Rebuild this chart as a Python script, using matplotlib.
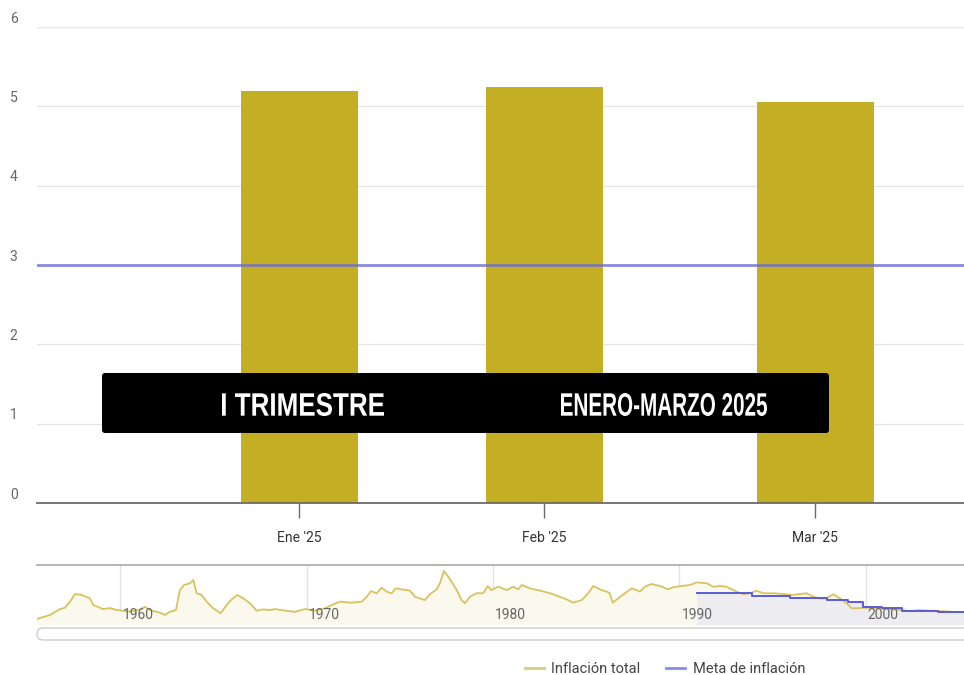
import matplotlib
matplotlib.use("Agg")
import matplotlib.pyplot as plt
import matplotlib.dates as mdates
from matplotlib.lines import Line2D
from matplotlib.patches import FancyBboxPatch, PathPatch
from matplotlib.textpath import TextPath
from matplotlib.font_manager import FontProperties
from matplotlib.transforms import Affine2D, IdentityTransform, ScaledTranslation
from datetime import datetime

# --- datos: inflación mensual 2025 (barras) ---
month_dates = [datetime(2025, 1, 31), datetime(2025, 2, 28), datetime(2025, 3, 31)]
month_labels = ["Ene '25", "Feb '25", "Mar '25"]
inflation_2025 = [5.19, 5.24, 5.05]
target = 3.0
y_ticks = [0, 1, 2, 3, 4, 5, 6]

# --- navegador: serie histórica ---
hist_years = [1955.50, 1956.22, 1956.75, 1957.02, 1957.29, 1957.56, 1957.92, 1958.36, 1958.54,
              1958.90, 1959.06, 1959.44, 1959.80, 1960.06, 1960.51, 1961.05, 1961.32, 1961.58,
              1962.12, 1962.39, 1962.66, 1962.98, 1963.19, 1963.41, 1963.73, 1963.91, 1964.09,
              1964.36, 1964.63, 1964.98, 1965.38, 1965.70, 1965.97, 1966.27, 1966.59, 1966.95,
              1967.31, 1967.67, 1968.02, 1968.29, 1968.83, 1969.37, 1969.90, 1970.44, 1970.98,
              1971.34, 1971.78, 1972.41, 1972.95, 1973.22, 1973.45, 1973.75, 1974.02, 1974.29,
              1974.56, 1974.77, 1975.09, 1975.54, 1975.81, 1976.34, 1976.61, 1976.97, 1977.15,
              1977.36, 1977.60, 1978.05, 1978.31, 1978.49, 1978.76, 1979.12, 1979.47, 1979.71,
              1979.92, 1980.28, 1980.73, 1981.08, 1981.35, 1981.54, 1981.98, 1982.52, 1983.06,
              1983.59, 1983.95, 1984.30, 1984.76, 1985.11, 1985.38, 1985.74, 1986.10, 1986.27,
              1986.42, 1986.72, 1987.08, 1987.44, 1987.71, 1987.89, 1988.15, 1988.51, 1988.96,
              1989.40, 1989.67, 1990.12, 1990.57, 1990.93, 1991.47, 1991.82, 1992.18, 1992.54,
              1992.89, 1993.08, 1993.43, 1993.79, 1994.15, 1994.50, 1995.04, 1995.58, 1996.03,
              1996.47, 1996.83, 1997.19, 1997.55, 1997.91, 1998.26, 1998.62, 1998.98, 1999.25,
              1999.52, 1999.87, 2000.23, 2000.77, 2001.30, 2001.84, 2002.38, 2002.91, 2003.45,
              2003.99, 2004.52, 2005.06]
hist_infl = [4.1, 6.9, 11.0, 11.9, 16.1, 21.4, 20.7, 18.4, 13.8,
             11.9, 11.0, 11.7, 10.3, 9.9, 9.2, 10.8, 12.6, 10.3,
             8.5, 6.9, 9.2, 10.3, 24.1, 27.6, 28.8, 31.0, 21.9,
             20.7, 16.1, 11.5, 8.1, 13.8, 17.7, 20.7, 18.4, 15.0,
             9.9, 10.8, 10.3, 11.0, 9.9, 9.1, 11.0, 9.9, 11.5,
             13.8, 16.1, 15.4, 16.1, 19.5, 23.4, 21.9, 25.7, 23.0,
             21.9, 25.3, 24.6, 23.7, 19.5, 17.2, 21.2, 24.6, 28.8,
             37.2, 33.3, 24.1, 17.2, 15.0, 19.5, 21.9, 21.9, 26.9,
             24.1, 26.4, 24.1, 26.4, 24.6, 27.6, 25.3, 23.7, 21.9,
             19.5, 17.7, 15.4, 17.2, 21.9, 26.9, 24.6, 23.0, 21.9,
             15.4, 18.4, 21.9, 25.3, 24.1, 23.0, 26.4, 28.3, 26.9,
             24.6, 26.0, 26.9, 27.6, 29.4, 28.8, 26.4, 26.9, 26.4,
             24.1, 23.0, 21.2, 21.9, 23.7, 21.9, 21.9, 21.4, 20.7,
             21.4, 21.9, 19.5, 18.4, 18.4, 21.2, 18.4, 15.0, 11.5,
             11.5, 11.9, 11.9, 11.5, 10.8, 10.3, 9.7, 10.3, 9.9,
             9.7, 9.2, 8.8]
meta_years = [1990.95, 1993.88, 1995.94, 1997.90, 1999.07, 1999.87, 2000.86, 2001.93,
              2003.90, 2005.06, 2005.30]
meta_vals = [21.9, 20.0, 18.8, 17.2, 16.1, 12.6, 11.5, 9.9, 9.2, 8.8, 8.8]
nav_decades = [1960, 1970, 1980, 1990, 2000]

bar_color = "#c4ae24"
meta_color = "#6767dc"
nav_yellow = "#d8c35e"
nav_blue = "#5b5bdd"

plt.rcParams['font.family'] = ['Roboto', 'DejaVu Sans']

fig = plt.figure(figsize=(9.64, 6.75), dpi=100)
W, H = 964, 675

# --- gráfico principal ---
ax = fig.add_axes([37 / W, 1 - 503 / H, 1 - 37 / W, (503 - 27) / H])
x = mdates.date2num(month_dates)
ax.bar(x, inflation_2025, width=13.4, color=bar_color, zorder=2)
ax.axhline(target, color=meta_color, lw=2, alpha=0.75, zorder=3)
ax.set_xlim(mdates.date2num(datetime(2025, 1, 1)), mdates.date2num(datetime(2025, 4, 17)))
ax.set_ylim(0, 6)
ax.set_yticks(y_ticks)
ax.set_yticklabels([str(v) for v in y_ticks])
ax.grid(axis='y', color='#e6e6e6', lw=1, zorder=0)
ax.set_xticks(x)
ax.set_xticklabels(month_labels)
for s in ['top', 'right', 'left']:
    ax.spines[s].set_visible(False)
ax.spines['bottom'].set_color('#6b6b6b')
ax.spines['bottom'].set_linewidth(1.3)
ax.spines['bottom'].set_zorder(4)
ax.tick_params(axis='y', length=0, pad=14, labelsize=10, labelcolor='#666666')
ax.tick_params(axis='x', length=11, width=1, color='#6b6b6b', pad=9, labelsize=10,
               labelcolor='#333333')
for lab in ax.get_yticklabels():
    lab.set_transform(lab.get_transform() + ScaledTranslation(0, 7 / 72, fig.dpi_scale_trans))

# --- navegador ---
ax2 = fig.add_axes([37 / W, 1 - 625 / H, 1 - 37 / W, 60 / H])
ax2.fill_between(hist_years, hist_infl, 0, color='#fbf9ee', lw=0, zorder=1)
ax2.fill_between(meta_years, meta_vals, 0, step='post', color='#ececf1', lw=0, zorder=2)
ax2.plot(hist_years, hist_infl, color=nav_yellow, lw=1.3, zorder=3)
ax2.step(meta_years, meta_vals, where='post', color=nav_blue, lw=1.4, zorder=4)
ax2.set_xlim(1955.52, 2005.28)
ax2.set_ylim(0, 41.4)
for yr in nav_decades:
    ax2.axvline(yr, color='#e2e2e2', lw=1, zorder=0.5)
    ax2.annotate(str(yr), (yr, 0), xycoords=ax2.get_xaxis_transform(), xytext=(1.5, 2),
                 textcoords='offset points', ha='left', va='bottom', fontsize=10,
                 color='#666666', zorder=5)
ax2.set_xticks([])
ax2.set_yticks([])
for s in ['bottom', 'right', 'left']:
    ax2.spines[s].set_visible(False)
ax2.spines['top'].set_color('#a8a8a8')
ax2.spines['top'].set_linewidth(1.2)

# barra de desplazamiento
fig.add_artist(FancyBboxPatch((37, H - 640), 940, 12,
                              boxstyle="round,pad=0,rounding_size=6",
                              facecolor='white', edgecolor='#cccccc', lw=1,
                              transform=IdentityTransform()))

# --- leyenda ---
handles = [Line2D([], [], color='#d9cb82', lw=2), Line2D([], [], color='#8a8aee', lw=2)]
fig.legend(handles, ['Inflación total', 'Meta de inflación'], loc='center',
           bbox_to_anchor=(665 / W, 1 - 669 / H), ncol=2, frameon=False, fontsize=10.5,
           handlelength=1.3, handletextpad=0.5, columnspacing=1.8, labelcolor='#444444')

# --- recuadro negro con el periodo ---
fig.add_artist(FancyBboxPatch((102, H - 433), 727, 60,
                              boxstyle="round,pad=0,rounding_size=3",
                              facecolor='black', edgecolor='none',
                              transform=IdentityTransform(), zorder=10))


def squeezed_text(s, x0, x1, ytop, ybot):
    # texto blanco comprimido para que ocupe la caja dada (pixeles desde arriba)
    prop = FontProperties(family='Liberation Sans', weight='bold')
    tp = TextPath((0, 0), s, size=100, prop=prop)
    ext = tp.get_extents()
    tr = (Affine2D().translate(-ext.x0, -ext.y0)
          .scale((x1 - x0) / ext.width, (ybot - ytop) / ext.height)
          .translate(x0, H - ybot))
    fig.add_artist(PathPatch(tr.transform_path(tp), facecolor='white', lw=0,
                             transform=IdentityTransform(), zorder=11))


squeezed_text("I TRIMESTRE", 222, 384, 393, 416)
squeezed_text("ENERO-MARZO 2025", 561, 767, 393, 416)

fig.savefig("out.png", dpi=100)
